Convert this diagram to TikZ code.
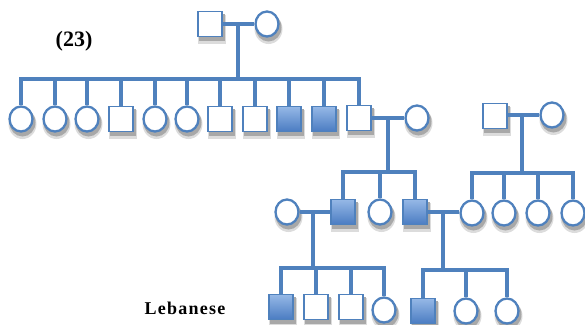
\documentclass[tikz,border=0pt]{standalone}
\usepackage{fontspec}
\setmainfont{Liberation Serif}
\usetikzlibrary{shapes.geometric,backgrounds}
\definecolor{pedline}{RGB}{79,129,189}
\definecolor{pedtop}{RGB}{150,184,230}
\definecolor{pedbot}{RGB}{74,124,194}
\definecolor{shadeout}{RGB}{220,220,220}
\definecolor{shadein}{RGB}{168,168,168}

\tikzset{
  person/.style={draw=pedline, fill=white, inner sep=0pt},
  male/.style={person, rectangle, line width=1.6pt,
    minimum width=24pt, minimum height=25pt},
  female/.style={person, ellipse, line width=2.3pt,
    minimum width=23pt, minimum height=25pt},
  affected/.style={male, top color=pedtop, bottom color=pedbot},
  % soft shadows cast by the symbols
  shadowbox/.style={rectangle, inner sep=0pt, draw=none,
    minimum width=26pt, minimum height=27pt},
  shadowdisc/.style={ellipse, inner sep=0pt, draw=none,
    minimum width=26pt, minimum height=28pt},
  link/.style={draw=pedline, line width=4.5pt, line join=miter},
  caption/.style={inner sep=0pt},
}

\begin{document}
\begin{tikzpicture}[x=1pt, y=-1pt]
\useasboundingbox (0,0) rectangle (585,324);

% ---- labels
\node[caption, font=\bfseries\fontsize{22}{22}\selectfont] (num) at (74,41) {(23)};
\node[caption, font=\bfseries\fontsize{18}{18}\selectfont] (origin) at (185,308)
  {\addfontfeature{LetterSpace=7}Lebanese};

% ---- generation I
\node[male]   (g1m) at (210,24) {};
\node[female] (g1f) at (267,24) {};
\coordinate (g1d) at (238,24);
\coordinate (g1s) at (238,79);

% ---- generation II
\node[female]   (c1)  at (21,119)  {};
\node[female]   (c2)  at (55,119)  {};
\node[female]   (c3)  at (87,119)  {};
\node[male]     (c4)  at (121,119) {};
\node[female]   (c5)  at (155,119) {};
\node[female]   (c6)  at (187,119) {};
\node[male]     (c7)  at (220,119) {};
\node[male]     (c8)  at (255,119) {};
\node[affected] (c9)  at (289,119) {};
\node[affected] (c10) at (324,119) {};
\node[male]     (c11) at (359,118) {};
\node[female]   (w11) at (417,118) {};
\coordinate (d11) at (388,118);
\coordinate (s11) at (388,172);

% second founding couple
\node[male]   (r0m) at (495,116) {};
\node[female] (r0f) at (552,115) {};
\coordinate (r0d) at (522,115);
\coordinate (r0s) at (522,173);

% ---- generation III
\node[female]   (h1) at (287,212) {};
\node[affected] (b1) at (343,212) {};
\node[female]   (b2) at (380,212) {};
\node[affected] (b3) at (415,212) {};
\node[female]   (q1) at (472,213) {};
\node[female]   (q2) at (504,213) {};
\node[female]   (q3) at (538,213) {};
\node[female]   (q4) at (573,213) {};
\coordinate (e1d) at (313,212);
\coordinate (e1s) at (313,268);
\coordinate (e3d) at (443,212);
\coordinate (e3s) at (443,270);

% ---- generation IV
\node[affected] (k1) at (281,307) {};
\node[male]     (k2) at (316,307) {};
\node[male]     (k3) at (351,307) {};
\node[female]   (k4) at (384,310) {};
\node[affected] (n1) at (423,311) {};
\node[female]   (n2) at (466,311) {};
\node[female]   (n3) at (507,311) {};

% ---- shadows behind the symbols
\begin{scope}[on background layer]
  \foreach \n in {g1m,c4,c7,c8,c9,c10,c11,r0m,b1,b3,k1,k2,k3,n1} {
    \node[shadowbox, fill=shadeout, minimum width=28pt, minimum height=29pt]
      at ([shift={(1.5,5)}]\n.center) {};
    \node[shadowbox, fill=shadein] at ([shift={(1.5,3.5)}]\n.center) {};
  }
  \foreach \n in {g1f,c1,c2,c3,c5,c6,w11,r0f,h1,b2,q1,q2,q3,q4,k4,n2,n3} {
    \node[shadowdisc, fill=shadeout, minimum width=28pt, minimum height=30pt]
      at ([shift={(1.5,5)}]\n.center) {};
    \node[shadowdisc, fill=shadein] at ([shift={(1.5,3.5)}]\n.center) {};
  }
\end{scope}

% ---- marriages
\draw[link] (g1m) -- (g1f);
\draw[link] (c11) -- (w11);
\draw[link] (r0m.east |- r0d) -- (r0f.west |- r0d);
\draw[link] (h1) -- (b1);
\draw[link] (b3.east |- e3d) -- (q1.west |- e3d);

% ---- descent lines
\draw[link] (g1d) -- (g1s);
\draw[link] (d11) -- (s11);
\draw[link] (r0d) -- (r0s);
\draw[link] (e1d) -- (e1s);
\draw[link] (e3d) -- (e3s);

% ---- sibships
\draw[link] (c1.north) |- (g1s) -| (c11.north);
\foreach \c in {c2,c3,c4,c5,c6,c7,c8,c9,c10}
  \draw[link] (\c.north |- g1s) -- (\c.north);

\draw[link] (b1.north) |- (s11) -| (b3.north);
\draw[link] (b2.north |- s11) -- (b2.north);

\draw[link] (q1.north) |- (r0s) -| (q4.north);
\foreach \c in {q2,q3}
  \draw[link] (\c.north |- r0s) -- (\c.north);

\draw[link] (k1.north) |- (e1s) -| (k4.north);
\foreach \c in {k2,k3}
  \draw[link] (\c.north |- e1s) -- (\c.north);

\draw[link] (n1.north) |- (e3s) -| (n3.north);
\draw[link] (n2.north |- e3s) -- (n2.north);
\end{tikzpicture}
\end{document}
